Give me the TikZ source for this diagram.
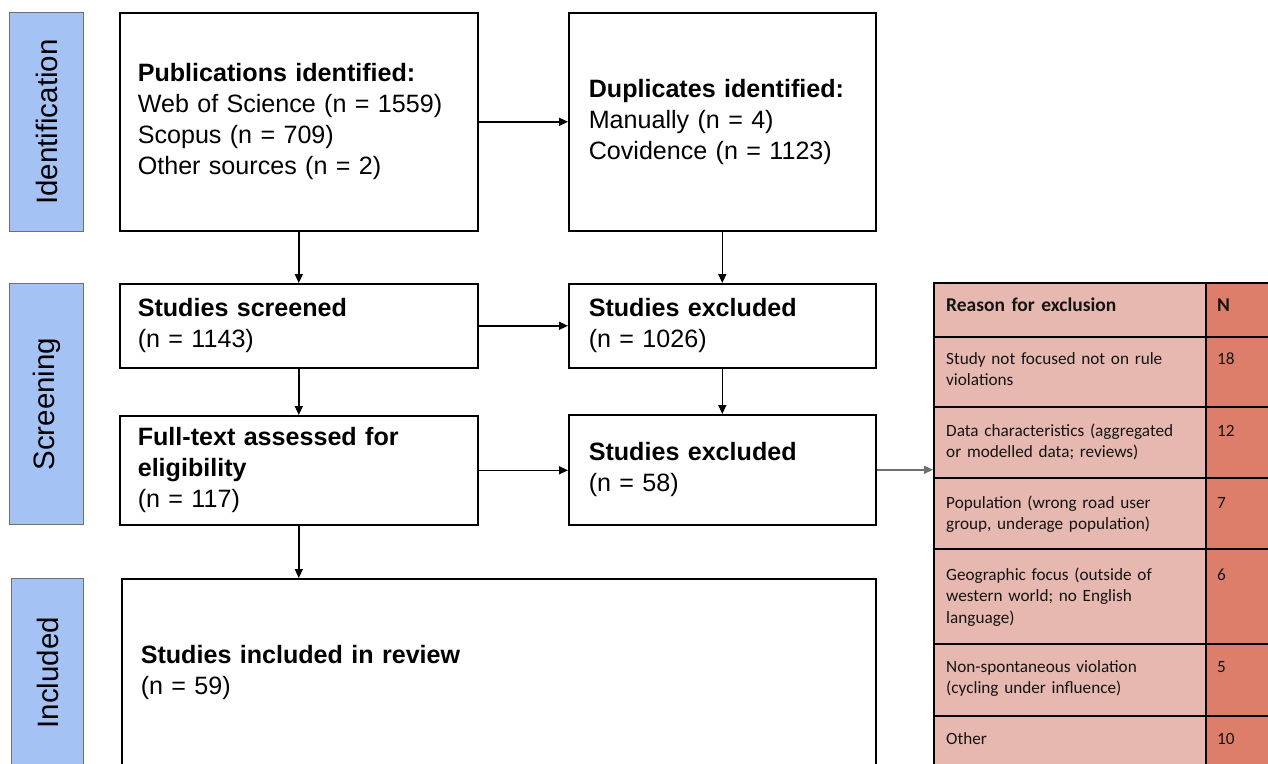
\documentclass[tikz,border=0pt]{standalone}
\usepackage{fontspec}
\setmainfont{Liberation Sans}
\newfontfamily\calib{Carlito}
\usetikzlibrary{arrows.meta,calc}
\definecolor{lblue}{HTML}{A4C2F4}
\definecolor{lpink}{HTML}{E6B8AF}
\definecolor{dpink}{HTML}{DD7E6B}
\definecolor{stageline}{HTML}{6F6F6F}
\begin{document}
\begin{tikzpicture}[x=1pt,y=-1pt,
  flowbox/.style={draw=black, line width=1.6pt, fill=white, rectangle, anchor=north west,
    align=left, inner ysep=0pt, font=\fontsize{25.1}{31}\selectfont},
  stage/.style={draw=stageline, line width=1.3pt, fill=lblue, anchor=north west, inner sep=0pt},
  stagetext/.style={rotate=90, font=\fontsize{29.5}{34}\selectfont},
  arr/.style={-{Triangle[length=9pt,width=8pt]}, line width=1.4pt},
  cella/.style={fill=lpink, draw=black, line width=1.8pt, anchor=north west, inner sep=0pt, minimum width=272pt},
  cellb/.style={fill=dpink, draw=black, line width=1.8pt, anchor=north west, inner sep=0pt, minimum width=90pt},
  tcell/.style={anchor=north west, inner sep=0pt, align=left, text width=250pt,
    font=\calib\fontsize{17.2}{21.5}\selectfont, text=black!92},
  ncell/.style={anchor=north west, inner sep=0pt, align=left,
    font=\calib\fontsize{17.2}{21.5}\selectfont, text=black!92},
  hdr/.style={font=\calib\bfseries\fontsize{19.5}{21.5}\selectfont}
]
\clip (0,0) rectangle (1268,763);
\fill[white] (0,0) rectangle (1268,763);

% stage labels
\node[stage, minimum width=74pt, minimum height=219pt] (s1) at (9,12) {};
\node[stagetext] (s1t) at (s1.center) {Identification};
\node[stage, minimum width=74pt, minimum height=241pt] (s2) at (9,283) {};
\node[stagetext] (s2t) at (s2.center) {Screening};
\node[stage, minimum width=72pt, minimum height=188pt] (s3) at (11,578) {};
\node[stagetext] (s3t) at (s3.center) {Included};

% flow boxes
\node[flowbox, inner xsep=18pt, text width=322pt, minimum width=358pt, minimum height=218pt] (A) at (119,12)
  {\textbf{Publications identified:}\\Web of Science (n = 1559)\\Scopus (n = 709)\\Other sources (n = 2)};
\node[flowbox, inner xsep=20pt, text width=267pt, minimum width=307pt, minimum height=218pt] (B) at (568,12)
  {\textbf{Duplicates identified:}\\Manually (n = 4)\\Covidence (n = 1123)};
\node[flowbox, inner xsep=18pt, text width=322pt, minimum width=358pt, minimum height=84pt] (C) at (119,283)
  {\textbf{Studies screened}\\(n = 1143)};
\node[flowbox, inner xsep=20pt, text width=267pt, minimum width=307pt, minimum height=84pt] (D) at (568,283)
  {\textbf{Studies excluded}\\(n = 1026)};
\node[flowbox, inner xsep=18pt, text width=322pt, minimum width=358pt, minimum height=109pt] (E) at (119,415)
  {\textbf{Full-text assessed for}\\\textbf{eligibility}\\(n = 117)};
\node[flowbox, inner xsep=20pt, text width=267pt, minimum width=307pt, minimum height=110pt] (F) at (568,414)
  {\textbf{Studies excluded}\\(n = 58)};
\node[flowbox, inner xsep=19pt, text width=716pt, minimum width=754pt, minimum height=188pt] (G) at (121,578)
  {\textbf{Studies included in review}\\(n = 59)};

% table
\node[cella, minimum height=54pt] (r0a) at (933,282) {};
\node[cellb, minimum height=54pt] (r0b) at (1205,282) {};
\node[cella, minimum height=70pt] (r1a) at (933,336) {};
\node[cellb, minimum height=70pt] (r1b) at (1205,336) {};
\node[cella, minimum height=71pt] (r2a) at (933,406) {};
\node[cellb, minimum height=71pt] (r2b) at (1205,406) {};
\node[cella, minimum height=71pt] (r3a) at (933,477) {};
\node[cellb, minimum height=71pt] (r3b) at (1205,477) {};
\node[cella, minimum height=95pt] (r4a) at (933,548) {};
\node[cellb, minimum height=95pt] (r4b) at (1205,548) {};
\node[cella, minimum height=72pt] (r5a) at (933,643) {};
\node[cellb, minimum height=72pt] (r5b) at (1205,643) {};
\node[cella, minimum height=80pt] (r6a) at (933,715) {};
\node[cellb, minimum height=80pt] (r6b) at (1205,715) {};

\node[tcell, hdr] (r0at) at ($(r0a.north west)+(13,14)$) {\strut Reason for exclusion};
\node[ncell, hdr] (r0bt) at ($(r0b.north west)+(12,14)$) {\strut N};
\node[tcell] (r1at) at ($(r1a.north west)+(13,13)$) {\strut Study not focused not on rule\\violations};
\node[ncell] (r1bt) at ($(r1b.north west)+(12,13)$) {\strut 18};
\node[tcell] (r2at) at ($(r2a.north west)+(13,15)$) {\strut Data characteristics (aggregated\\or modelled data; reviews)};
\node[ncell] (r2bt) at ($(r2b.north west)+(12,15)$) {\strut 12};
\node[tcell] (r3at) at ($(r3a.north west)+(13,16)$) {\strut Population (wrong road user\\group, underage population)};
\node[ncell] (r3bt) at ($(r3b.north west)+(12,16)$) {\strut 7};
\node[tcell] (r4at) at ($(r4a.north west)+(13,17)$) {\strut Geographic focus (outside of\\western world; no English\\language)};
\node[ncell] (r4bt) at ($(r4b.north west)+(12,17)$) {\strut 6};
\node[tcell] (r5at) at ($(r5a.north west)+(13,14)$) {\strut Non-spontaneous violation\\(cycling under influence)};
\node[ncell] (r5bt) at ($(r5b.north west)+(12,14)$) {\strut 5};
\node[tcell] (r6at) at ($(r6a.north west)+(13,14)$) {\strut Other};
\node[ncell] (r6bt) at ($(r6b.north west)+(12,14)$) {\strut 10};

% connectors
\draw[arr] (A.east) -- (A.east -| B.west);
\draw[arr] (A.south) -- (A.south |- C.north);
\draw[arr] (B.south) -- (B.south |- D.north);
\draw[arr] (C.east) -- (C.east -| D.west);
\draw[arr] (C.south) -- (C.south |- E.north);
\draw[arr] (D.south) -- (D.south |- F.north);
\draw[arr] (E.east) -- (E.east -| F.west);
\draw[arr] (E.south) -- (E.south |- G.north);
\draw[arr, draw=stageline, fill=stageline] (F.east) -- (F.east -| r2a.west);
\end{tikzpicture}
\end{document}
